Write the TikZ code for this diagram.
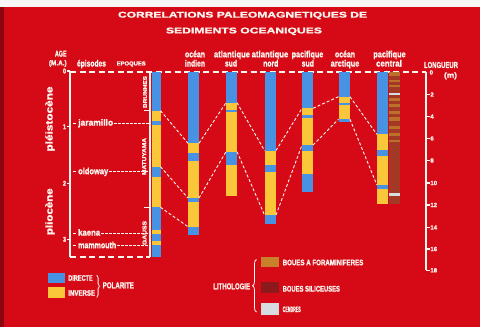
\documentclass[tikz,border=0pt]{standalone}
\usepackage{fontspec}
\usepackage{graphicx}
\setmainfont{Liberation Sans}[BoldFeatures={FakeBold=1.3}]
\usetikzlibrary{decorations.pathreplacing}
\newcommand\fw[2]{\resizebox{#1pt}{\height}{#2}}
\newcommand\fwh[3]{\resizebox{#1pt}{#2pt}{#3}}
\newcommand\fwht[3]{\resizebox*{#1pt}{#2pt}{#3}}
\definecolor{bg}{RGB}{214,10,22}
\definecolor{dirc}{RGB}{72,146,228}
\definecolor{inv}{RGB}{250,198,58}
\definecolor{foram}{RGB}{200,128,42}
\definecolor{foramcol}{RGB}{188,112,44}
\definecolor{silic}{RGB}{163,56,36}
\definecolor{silicleg}{RGB}{140,26,28}
\definecolor{cendre}{RGB}{214,220,224}
\definecolor{txt}{RGB}{252,246,240}
\begin{document}
\begin{tikzpicture}[x=1pt,y=-1pt,
  every node/.style={inner sep=0pt,text=txt,font=\bfseries},
  lab/.style={font=\bfseries\fontsize{9}{9}\selectfont},
  epil/.style={lab,anchor=base west,text height=6.6pt,text depth=2pt},
  num/.style={font=\bfseries\fontsize{7}{7}\selectfont},
  snum/.style={font=\bfseries\fontsize{6}{6}\selectfont,anchor=west},
  topdash/.style={draw=txt,line width=1.6pt,dash pattern=on 6pt off 3.5pt},
  corr/.style={draw=txt,line width=0.9pt,dash pattern=on 3pt off 2pt},
  epiline/.style={draw=txt,line width=0.9pt,dash pattern=on 2.5pt off 1.5pt},
  axisline/.style={draw=txt,line width=2pt},
  tickline/.style={draw=txt,line width=1.3pt},
  bracest/.style={draw=txt,line width=0.8pt,decorate}]
% background
\fill[bg] (0,0) rectangle (480,327);
\useasboundingbox (0,0) rectangle (480,327);
\fill[white!94!gray] (0,0) rectangle (480,7);
\fill[bg!65!black] (0,7) rectangle (4,327);
% title
\node (t1) at (242.5,15.5) {\fwh{249}{5.8}{CORRELATIONS PALEOMAGNETIQUES DE}};
\node (t2) at (244,31.3) {\fwh{156}{5.8}{SEDIMENTS OCEANIQUES}};
% headers
\node (age) at (60.8,53.7) {\fwh{11.7}{6}{AGE}};
\node (ma) at (57.8,63.5) {\fwht{17.7}{6.6}{(M.A.)}};
\node[lab,anchor=base] (epis) at (91.5,66.5) {\fw{29}{épisodes}};
\node (epoq) at (131.2,64) {\fwh{29}{4}{EPOQUES}};
\node[lab,anchor=base] (h1a) at (195,57.3) {\fw{20}{océan}};
\node[lab,anchor=base] (h1b) at (195,66.5) {\fw{20}{indien}};
\node[lab,anchor=base] (h2a) at (232,57.3) {\fw{36}{atlantique}};
\node[lab,anchor=base] (h2b) at (231,66.5) {\fw{12}{sud}};
\node[lab,anchor=base] (h3a) at (270,57.3) {\fw{36.6}{atlantique}};
\node[lab,anchor=base] (h3b) at (270.8,66.5) {\fw{15}{nord}};
\node[lab,anchor=base] (h4a) at (307.5,57.3) {\fw{31.6}{pacifique}};
\node[lab,anchor=base] (h4b) at (307.8,66.5) {\fw{12.3}{sud}};
\node[lab,anchor=base] (h5a) at (345,57.3) {\fw{20}{océan}};
\node[lab,anchor=base] (h5b) at (345,66.5) {\fw{28.6}{arctique}};
\node[lab,anchor=base] (h6a) at (389.5,57.3) {\fw{32.4}{pacifique}};
\node[lab,anchor=base] (h6b) at (389,66.5) {\fw{25.7}{central}};
\node (long) at (441,65) {\fwh{34}{6}{LONGUEUR}};
\node (mu) at (450.5,75.8) {\fwht{13}{7}{(m)}};
% epochs (rotated)
\node[font=\bfseries\fontsize{10}{10}\selectfont,rotate=90] (pleis) at (50,119) {\fw{65}{pléistocène}};
\node[font=\bfseries\fontsize{10}{10}\selectfont,rotate=90] (plio) at (50,211.7) {\fw{46.7}{pliocène}};
\node[rotate=90] (bru) at (145,92) {\fwh{32}{3.6}{BRUNHES}};
\node[rotate=90] (mat) at (144.2,156.5) {\fwh{37}{4}{MATUYAMA}};
\node[rotate=90] (gau) at (144.5,233) {\fwh{24}{4}{GAUSS}};
% frame and axes
\coordinate (agetop) at (70,72);
\coordinate (agebot) at (70,257);
\coordinate (boxr) at (150,257);
\coordinate (lngtop) at (426,72);
\coordinate (lngbot) at (426,270.3);
\draw[topdash] (agetop) -- (lngtop);
\draw[topdash] (agebot) -- (boxr);
\draw[axisline] (agetop) -- (agebot);
\draw[txt,line width=1.6pt] (150,72) -- (boxr);
\draw[tickline] (144,110.7) -- (150,110.7);
\draw[tickline] (144,207.3) -- (150,207.3);
\foreach \v/\y in {0/71,1/126.7,2/183.3,3/239.3}{
  \draw[tickline] (66.5,\y) -- (70,\y);
  \node[num,anchor=east] (age\v) at (66.2,\y) {\fw{3}{\v}};
}
\draw[axisline] (lngtop) -- (lngbot);
\node[snum] (l0) at (429.5,72.5) {0};
\foreach \v/\y in {2/94.5,4/116.5,6/138.5,8/160.5,10/183,12/205,14/227.5,16/249,18/270.3}{
  \draw[tickline] (426,\y) -- (429.5,\y);
  \node[snum] (l\v) at (430.2,\y) {\v};
}
% episodes
\coordinate (axa) at (72.5,0);
\coordinate (axb) at (76,0);
\coordinate (bx) at (148.5,0);
\node[epil] (jar) at (78,125.6) {\fw{35}{jaramillo}};
\node[epil] (old) at (78,174.2) {\fw{30}{oldoway}};
\node[epil] (kae) at (78,235.6) {\fw{22}{kaena}};
\node[epil] (mam) at (78,248.2) {\fw{38}{mammouth}};
\foreach \e in {jar,old,kae,mam}{
  \draw[txt,line width=0.9pt] (\e.west -| axa) -- (\e.west -| axb);
  \draw[epiline] ([xshift=1pt]\e.east) -- (\e.east -| bx);
}
% reference column
\fill[dirc] (151.5,72) rectangle (160.5,257);
\foreach \a/\b in {110.7/120.7,124.5/166.7,176.7/207.3,230/234.3,240.7/245}
  \fill[inv] (151.5,\a) rectangle (160.5,\b);
% ocean indien
\fill[dirc] (188,72) rectangle (199,235);
\foreach \a/\b in {143.3/153,160.5/198,201.7/226.7}
  \fill[inv] (188,\a) rectangle (199,\b);
% atlantique sud
\fill[dirc] (226,72) rectangle (237,196);
\foreach \a/\b in {102.7/110,112.3/151.7,165/196}
  \fill[inv] (226,\a) rectangle (237,\b);
% atlantique nord
\fill[dirc] (264.5,72) rectangle (276,224);
\foreach \a/\b in {150.5/165,171.7/215}
  \fill[inv] (264.5,\a) rectangle (276,\b);
% pacifique sud
\fill[dirc] (302,72) rectangle (313,191.5);
\foreach \a/\b in {108.3/115,118.3/145,150.5/173.7}
  \fill[inv] (302,\a) rectangle (313,\b);
% ocean arctique
\fill[dirc] (338.5,72) rectangle (350,121.7);
\foreach \a/\b in {96.7/102.7,105/119.3}
  \fill[inv] (338.5,\a) rectangle (350,\b);
% pacifique central
\fill[dirc] (376.8,72) rectangle (387.6,204);
\foreach \a/\b in {134.3/150,156/184.7,189.3/204}
  \fill[inv] (376.8,\a) rectangle (387.6,\b);
\fill[silic] (389.3,72) rectangle (400,204);
\foreach \a/\b in {72/76,80/82,84.5/86.5,97.5/100.5,103.5/106.5,110.5/114,117/120.5,125.5/129,132.5/136,140/141.7}
  \fill[foramcol] (389.3,\a) rectangle (400,\b);
\fill[cendre] (389.3,93.3) rectangle (400,94.8);
\fill[cendre] (389.3,192.7) rectangle (400,195.7);
% correlation points
\coordinate (c1a) at (160.5,110.7);  \coordinate (c1b) at (188,143.3);
\coordinate (c2a) at (160.5,166.7);  \coordinate (c2b) at (188,198);
\coordinate (c3a) at (160.5,207.3);  \coordinate (c3b) at (188,226.7);
\coordinate (c4a) at (199,143.3);    \coordinate (c4b) at (226,102.7);
\coordinate (c5a) at (199,198);      \coordinate (c5b) at (226,151.7);
\coordinate (c6a) at (237,102.7);    \coordinate (c6b) at (264.5,150.5);
\coordinate (c7a) at (237,151.7);    \coordinate (c7b) at (264.5,215);
\coordinate (c8a) at (276,150.5);    \coordinate (c8b) at (302,108.3);
\coordinate (c9a) at (276,215);      \coordinate (c9b) at (302,145);
\coordinate (c10a) at (313,108.3);   \coordinate (c10b) at (338.5,96.7);
\coordinate (c11a) at (313,145);     \coordinate (c11b) at (338.5,119.3);
\coordinate (c12a) at (350,96.7);    \coordinate (c12b) at (376.8,134.3);
\coordinate (c13a) at (350,119.3);   \coordinate (c13b) at (376.8,184.7);
\foreach \i in {1,...,13}
  \draw[corr] (c\i a) -- (c\i b);
% legend polarity
\fill[dirc] (47.7,272.7) rectangle (65,283.3);
\fill[inv] (47.7,287.3) rectangle (65,298.3);
\node (ldir) at (80.5,278) {\fwh{24.4}{5.5}{DIRECTE}};
\node (linv) at (81.7,293) {\fwh{26.7}{5.5}{INVERSE}};
\coordinate (pbt) at (96.8,275);
\coordinate (pbb) at (96.8,297.5);
\draw[bracest,decoration={brace,amplitude=2.6pt}] (pbt) -- (pbb);
\node (lpol) at (118.3,285.3) {\fwh{31.3}{6}{POLARITE}};
% legend lithology
\node (llit) at (231.7,286.3) {\fwh{36.7}{6}{LITHOLOGIE}};
\coordinate (lbt) at (256.5,259.5);
\coordinate (lbb) at (256.5,312);
\draw[bracest,decoration={brace,amplitude=4pt}] (lbb) -- (lbt);
\fill[foram] (260.7,256.7) rectangle (279.3,267.3);
\fill[silicleg] (260.7,281.7) rectangle (279.3,293.3);
\fill[cendre] (260.7,303.3) rectangle (279.3,315);
\node (lfor) at (323,262.5) {\fwh{80.6}{5.5}{BOUES A FORAMINIFERES}};
\node (lsil) at (311.3,288.8) {\fwh{57.3}{5.7}{BOUES SILICEUSES}};
\node (lcen) at (291.7,309.3) {\fwh{18}{5.5}{CENDRES}};
\end{tikzpicture}
\end{document}
